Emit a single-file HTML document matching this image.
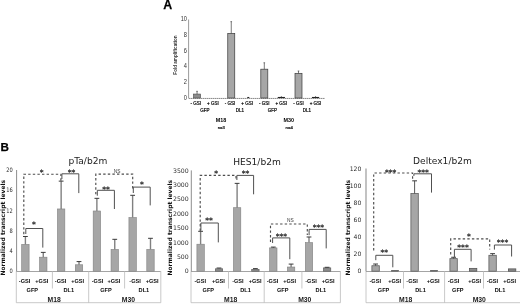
<!DOCTYPE html>
<html><head><meta charset="utf-8"><title>Figure</title>
<style>
html,body{margin:0;padding:0;background:#fff;}
body{width:520px;height:305px;overflow:hidden;}
svg{display:block;filter:blur(0.32px);}
</style></head>
<body>
<svg width="520" height="305" viewBox="0 0 520 305">
<rect x="0" y="0" width="520" height="305" fill="#ffffff"/>
<text x="163.20" y="8.60" font-size="12.4" text-anchor="start" font-weight="bold" font-family='"Liberation Sans", sans-serif' fill="#000" stroke="#000" stroke-width="0.25">A</text>
<line x1="188.60" y1="19.50" x2="188.60" y2="98.00" stroke="#555" stroke-width="0.6"/>
<line x1="188.60" y1="98.45" x2="325.00" y2="98.45" stroke="#6a6a6a" stroke-width="0.8" stroke-dasharray="1.6 0.4"/>
<text transform="translate(187.00,99.50) scale(0.86,1)" font-size="6.6" text-anchor="end" font-family='"Liberation Sans", sans-serif' fill="#333">0</text>
<text transform="translate(187.00,83.84) scale(0.86,1)" font-size="6.6" text-anchor="end" font-family='"Liberation Sans", sans-serif' fill="#333">2</text>
<text transform="translate(187.00,68.18) scale(0.86,1)" font-size="6.6" text-anchor="end" font-family='"Liberation Sans", sans-serif' fill="#333">4</text>
<text transform="translate(187.00,52.52) scale(0.86,1)" font-size="6.6" text-anchor="end" font-family='"Liberation Sans", sans-serif' fill="#333">6</text>
<text transform="translate(187.00,36.86) scale(0.86,1)" font-size="6.6" text-anchor="end" font-family='"Liberation Sans", sans-serif' fill="#333">8</text>
<text transform="translate(187.00,21.20) scale(0.86,1)" font-size="6.6" text-anchor="end" font-family='"Liberation Sans", sans-serif' fill="#333">10</text>
<text transform="translate(177.30,55.00) rotate(-90)" font-size="4.6" text-anchor="middle" font-weight="bold" font-family='"Liberation Sans", sans-serif' fill="#333">Fold amplification</text>
<rect x="193.55" y="94.08" width="7.00" height="3.92" fill="#8c8c8c" stroke="#555" stroke-width="0.7"/>
<line x1="197.05" y1="94.08" x2="197.05" y2="91.34" stroke="#404040" stroke-width="0.7"/>
<line x1="196.25" y1="91.34" x2="197.85" y2="91.34" stroke="#404040" stroke-width="0.7"/>
<rect x="227.75" y="33.40" width="7.00" height="64.60" fill="#a6a6a6" stroke="#3a3a3a" stroke-width="0.7"/>
<line x1="231.25" y1="33.40" x2="231.25" y2="21.66" stroke="#404040" stroke-width="0.7"/>
<line x1="230.45" y1="21.66" x2="232.05" y2="21.66" stroke="#404040" stroke-width="0.7"/>
<line x1="247.30" y1="97.50" x2="249.30" y2="97.50" stroke="#222" stroke-width="1.1"/>
<rect x="260.80" y="69.19" width="7.00" height="28.81" fill="#a6a6a6" stroke="#3a3a3a" stroke-width="0.7"/>
<line x1="264.30" y1="69.19" x2="264.30" y2="62.77" stroke="#404040" stroke-width="0.7"/>
<line x1="263.50" y1="62.77" x2="265.10" y2="62.77" stroke="#404040" stroke-width="0.7"/>
<line x1="277.75" y1="97.50" x2="284.95" y2="97.50" stroke="#222" stroke-width="1.1"/>
<line x1="281.35" y1="97.50" x2="281.35" y2="96.10" stroke="#333" stroke-width="0.7"/>
<rect x="295.00" y="73.34" width="7.00" height="24.66" fill="#a6a6a6" stroke="#3a3a3a" stroke-width="0.7"/>
<line x1="298.50" y1="73.34" x2="298.50" y2="70.99" stroke="#404040" stroke-width="0.7"/>
<line x1="297.70" y1="70.99" x2="299.30" y2="70.99" stroke="#404040" stroke-width="0.7"/>
<line x1="311.95" y1="97.50" x2="319.15" y2="97.50" stroke="#222" stroke-width="1.1"/>
<line x1="315.55" y1="97.50" x2="315.55" y2="96.10" stroke="#333" stroke-width="0.7"/>
<text x="195.80" y="104.90" font-size="4.5" text-anchor="middle" font-weight="normal" font-family='"Liberation Sans", sans-serif' fill="#111" stroke="#111" stroke-width="0.22">- GSI</text>
<text x="212.90" y="104.90" font-size="4.5" text-anchor="middle" font-weight="normal" font-family='"Liberation Sans", sans-serif' fill="#111" stroke="#111" stroke-width="0.22">+ GSI</text>
<text x="230.00" y="104.90" font-size="4.5" text-anchor="middle" font-weight="normal" font-family='"Liberation Sans", sans-serif' fill="#111" stroke="#111" stroke-width="0.22">- GSI</text>
<text x="247.10" y="104.90" font-size="4.5" text-anchor="middle" font-weight="normal" font-family='"Liberation Sans", sans-serif' fill="#111" stroke="#111" stroke-width="0.22">+ GSI</text>
<text x="264.20" y="104.90" font-size="4.5" text-anchor="middle" font-weight="normal" font-family='"Liberation Sans", sans-serif' fill="#111" stroke="#111" stroke-width="0.22">- GSI</text>
<text x="281.30" y="104.90" font-size="4.5" text-anchor="middle" font-weight="normal" font-family='"Liberation Sans", sans-serif' fill="#111" stroke="#111" stroke-width="0.22">+ GSI</text>
<text x="298.40" y="104.90" font-size="4.5" text-anchor="middle" font-weight="normal" font-family='"Liberation Sans", sans-serif' fill="#111" stroke="#111" stroke-width="0.22">- GSI</text>
<text x="315.50" y="104.90" font-size="4.5" text-anchor="middle" font-weight="normal" font-family='"Liberation Sans", sans-serif' fill="#111" stroke="#111" stroke-width="0.22">+ GSI</text>
<text x="204.80" y="111.80" font-size="4.5" text-anchor="middle" font-weight="normal" font-family='"Liberation Sans", sans-serif' fill="#111" stroke="#111" stroke-width="0.22">GFP</text>
<text x="240.00" y="111.80" font-size="4.5" text-anchor="middle" font-weight="normal" font-family='"Liberation Sans", sans-serif' fill="#111" stroke="#111" stroke-width="0.22">DL1</text>
<text x="272.40" y="111.80" font-size="4.5" text-anchor="middle" font-weight="normal" font-family='"Liberation Sans", sans-serif' fill="#111" stroke="#111" stroke-width="0.22">GFP</text>
<text x="307.00" y="111.80" font-size="4.5" text-anchor="middle" font-weight="normal" font-family='"Liberation Sans", sans-serif' fill="#111" stroke="#111" stroke-width="0.22">DL1</text>
<text x="221.00" y="121.90" font-size="5.4" text-anchor="middle" font-weight="bold" font-family='"Liberation Sans", sans-serif' fill="#000" >M18</text>
<text x="288.80" y="121.90" font-size="5.4" text-anchor="middle" font-weight="bold" font-family='"Liberation Sans", sans-serif' fill="#000" >M30</text>
<text x="221.30" y="129.40" font-size="4.3" text-anchor="middle" font-weight="normal" font-family='"Liberation Sans", sans-serif' fill="#111" stroke="#111" stroke-width="0.22">n=3</text>
<text x="289.20" y="129.40" font-size="4.3" text-anchor="middle" font-weight="normal" font-family='"Liberation Sans", sans-serif' fill="#111" stroke="#111" stroke-width="0.22">n=4</text>
<text x="0.50" y="150.50" font-size="11.7" text-anchor="start" font-weight="bold" font-family='"Liberation Sans", sans-serif' fill="#000" stroke="#000" stroke-width="0.25">B</text>
<line x1="16.30" y1="271.20" x2="16.30" y2="302.70" stroke="#bababa" stroke-width="0.8"/>
<line x1="16.60" y1="170.00" x2="16.60" y2="271.20" stroke="#707070" stroke-width="0.8"/>
<line x1="16.30" y1="271.50" x2="160.80" y2="271.50" stroke="#9a9a9a" stroke-width="0.9"/>
<line x1="16.30" y1="302.70" x2="160.80" y2="302.70" stroke="#bababa" stroke-width="0.8"/>
<line x1="160.80" y1="271.20" x2="160.80" y2="302.70" stroke="#bababa" stroke-width="0.8"/>
<line x1="88.70" y1="271.20" x2="88.70" y2="302.70" stroke="#bababa" stroke-width="0.8"/>
<line x1="52.40" y1="271.20" x2="52.40" y2="288.50" stroke="#bababa" stroke-width="0.8"/>
<line x1="124.60" y1="271.20" x2="124.60" y2="288.50" stroke="#bababa" stroke-width="0.8"/>
<text transform="translate(12.70,273.35) scale(0.84,1)" font-size="6.1" text-anchor="end" font-family='"DejaVu Sans", "Liberation Sans", sans-serif' fill="#2e2e2e">0</text>
<text transform="translate(12.70,253.11) scale(0.84,1)" font-size="6.1" text-anchor="end" font-family='"DejaVu Sans", "Liberation Sans", sans-serif' fill="#2e2e2e">4</text>
<text transform="translate(12.70,232.87) scale(0.84,1)" font-size="6.1" text-anchor="end" font-family='"DejaVu Sans", "Liberation Sans", sans-serif' fill="#2e2e2e">8</text>
<text transform="translate(12.70,212.63) scale(0.84,1)" font-size="6.1" text-anchor="end" font-family='"DejaVu Sans", "Liberation Sans", sans-serif' fill="#2e2e2e">12</text>
<text transform="translate(12.70,192.39) scale(0.84,1)" font-size="6.1" text-anchor="end" font-family='"DejaVu Sans", "Liberation Sans", sans-serif' fill="#2e2e2e">16</text>
<text transform="translate(12.70,172.15) scale(0.84,1)" font-size="6.1" text-anchor="end" font-family='"DejaVu Sans", "Liberation Sans", sans-serif' fill="#2e2e2e">20</text>
<text transform="translate(5.00,227.70) rotate(-90)" font-size="6.0" text-anchor="middle" font-weight="bold" font-family='"DejaVu Sans", "Liberation Sans", sans-serif' fill="#111">Normalized transcript levels</text>
<text x="87.90" y="163.90" font-size="9.1" text-anchor="middle" font-weight="normal" font-family='"DejaVu Sans", "Liberation Sans", sans-serif' fill="#222" >pTa/b2m</text>
<rect x="21.70" y="244.38" width="7.40" height="26.82" fill="#a6a6a6" stroke="#808080" stroke-width="0.6"/>
<line x1="25.40" y1="244.38" x2="25.40" y2="236.49" stroke="#808080" stroke-width="1.4"/>
<line x1="23.00" y1="236.49" x2="27.80" y2="236.49" stroke="#3a3a3a" stroke-width="1.0"/>
<rect x="39.57" y="257.18" width="7.40" height="14.02" fill="#a6a6a6" stroke="#808080" stroke-width="0.6"/>
<line x1="43.27" y1="257.18" x2="43.27" y2="252.38" stroke="#808080" stroke-width="1.4"/>
<line x1="40.87" y1="252.38" x2="45.67" y2="252.38" stroke="#3a3a3a" stroke-width="1.0"/>
<rect x="57.44" y="208.96" width="7.40" height="62.24" fill="#a6a6a6" stroke="#808080" stroke-width="0.6"/>
<line x1="61.14" y1="208.96" x2="61.14" y2="181.13" stroke="#808080" stroke-width="1.4"/>
<line x1="58.74" y1="181.13" x2="63.54" y2="181.13" stroke="#3a3a3a" stroke-width="1.0"/>
<rect x="75.31" y="264.77" width="7.40" height="6.43" fill="#a6a6a6" stroke="#808080" stroke-width="0.6"/>
<line x1="79.01" y1="264.77" x2="79.01" y2="261.59" stroke="#808080" stroke-width="1.4"/>
<line x1="76.61" y1="261.59" x2="81.41" y2="261.59" stroke="#3a3a3a" stroke-width="1.0"/>
<rect x="93.18" y="210.99" width="7.40" height="60.21" fill="#a6a6a6" stroke="#808080" stroke-width="0.6"/>
<line x1="96.88" y1="210.99" x2="96.88" y2="198.34" stroke="#808080" stroke-width="1.4"/>
<line x1="94.48" y1="198.34" x2="99.28" y2="198.34" stroke="#3a3a3a" stroke-width="1.0"/>
<rect x="111.05" y="249.44" width="7.40" height="21.76" fill="#a6a6a6" stroke="#808080" stroke-width="0.6"/>
<line x1="114.75" y1="249.44" x2="114.75" y2="239.32" stroke="#808080" stroke-width="1.4"/>
<line x1="112.35" y1="239.32" x2="117.15" y2="239.32" stroke="#3a3a3a" stroke-width="1.0"/>
<rect x="128.92" y="217.56" width="7.40" height="53.64" fill="#a6a6a6" stroke="#808080" stroke-width="0.6"/>
<line x1="132.62" y1="217.56" x2="132.62" y2="195.30" stroke="#808080" stroke-width="1.4"/>
<line x1="130.22" y1="195.30" x2="135.02" y2="195.30" stroke="#3a3a3a" stroke-width="1.0"/>
<rect x="146.79" y="249.44" width="7.40" height="21.76" fill="#a6a6a6" stroke="#808080" stroke-width="0.6"/>
<line x1="150.49" y1="249.44" x2="150.49" y2="238.31" stroke="#808080" stroke-width="1.4"/>
<line x1="148.09" y1="238.31" x2="152.89" y2="238.31" stroke="#3a3a3a" stroke-width="1.0"/>
<text x="24.60" y="282.90" font-size="5.6" text-anchor="middle" font-weight="bold" font-family='"Liberation Sans", sans-serif' fill="#0a0a0a" >-GSI</text>
<text x="41.80" y="282.90" font-size="5.6" text-anchor="middle" font-weight="bold" font-family='"Liberation Sans", sans-serif' fill="#0a0a0a" >+GSI</text>
<text x="60.60" y="282.90" font-size="5.6" text-anchor="middle" font-weight="bold" font-family='"Liberation Sans", sans-serif' fill="#0a0a0a" >-GSI</text>
<text x="77.70" y="282.90" font-size="5.6" text-anchor="middle" font-weight="bold" font-family='"Liberation Sans", sans-serif' fill="#0a0a0a" >+GSI</text>
<text x="97.50" y="282.90" font-size="5.6" text-anchor="middle" font-weight="bold" font-family='"Liberation Sans", sans-serif' fill="#0a0a0a" >-GSI</text>
<text x="113.90" y="282.90" font-size="5.6" text-anchor="middle" font-weight="bold" font-family='"Liberation Sans", sans-serif' fill="#0a0a0a" >+GSI</text>
<text x="135.10" y="282.90" font-size="5.6" text-anchor="middle" font-weight="bold" font-family='"Liberation Sans", sans-serif' fill="#0a0a0a" >-GSI</text>
<text x="152.10" y="282.90" font-size="5.6" text-anchor="middle" font-weight="bold" font-family='"Liberation Sans", sans-serif' fill="#0a0a0a" >+GSI</text>
<text x="32.30" y="292.00" font-size="5.6" text-anchor="middle" font-weight="bold" font-family='"Liberation Sans", sans-serif' fill="#0a0a0a" >GFP</text>
<text x="68.80" y="292.00" font-size="5.6" text-anchor="middle" font-weight="bold" font-family='"Liberation Sans", sans-serif' fill="#0a0a0a" >DL1</text>
<text x="106.00" y="292.00" font-size="5.6" text-anchor="middle" font-weight="bold" font-family='"Liberation Sans", sans-serif' fill="#0a0a0a" >GFP</text>
<text x="143.90" y="292.00" font-size="5.6" text-anchor="middle" font-weight="bold" font-family='"Liberation Sans", sans-serif' fill="#0a0a0a" >DL1</text>
<text x="54.10" y="301.80" font-size="6.8" text-anchor="middle" font-weight="bold" font-family='"Liberation Sans", sans-serif' fill="#1a1a1a" >M18</text>
<text x="128.40" y="301.80" font-size="6.8" text-anchor="middle" font-weight="bold" font-family='"Liberation Sans", sans-serif' fill="#1a1a1a" >M30</text>
<polyline points="23.80,234.20 23.80,174.20 60.90,174.20 60.90,181.00" fill="none" stroke="#4c4c4c" stroke-width="1.15" stroke-dasharray="2.4 2.2"/>
<text x="41.60" y="174.99" font-size="7.6" text-anchor="middle" font-weight="normal" font-family='"DejaVu Sans", "Liberation Sans", sans-serif' fill="#111" stroke="#222" stroke-width="0.15">*</text>
<polyline points="61.90,179.00 61.90,173.80 78.80,173.80 78.80,193.10" fill="none" stroke="#505050" stroke-width="1.0"/>
<text x="71.60" y="174.69" font-size="7.6" text-anchor="middle" font-weight="normal" font-family='"DejaVu Sans", "Liberation Sans", sans-serif' fill="#111" stroke="#222" stroke-width="0.15">**</text>
<polyline points="25.80,234.00 25.80,228.50 42.80,228.50 42.80,247.60" fill="none" stroke="#505050" stroke-width="1.0"/>
<text x="34.00" y="226.59" font-size="7.6" text-anchor="middle" font-weight="normal" font-family='"DejaVu Sans", "Liberation Sans", sans-serif' fill="#111" stroke="#222" stroke-width="0.15">*</text>
<polyline points="95.80,194.30 95.80,174.10 132.70,174.10 132.70,190.00" fill="none" stroke="#4c4c4c" stroke-width="1.15" stroke-dasharray="2.4 2.2"/>
<text x="117.10" y="172.90" font-size="4.8" text-anchor="middle" font-weight="normal" font-family='"Liberation Sans", sans-serif' fill="#3a3a3a" >NS</text>
<polyline points="97.30,195.70 97.30,190.30 114.40,190.30 114.40,209.00" fill="none" stroke="#505050" stroke-width="1.0"/>
<text x="106.00" y="191.59" font-size="7.6" text-anchor="middle" font-weight="normal" font-family='"DejaVu Sans", "Liberation Sans", sans-serif' fill="#111" stroke="#222" stroke-width="0.15">**</text>
<polyline points="133.30,193.00 133.30,187.10 150.20,187.10 150.20,205.40" fill="none" stroke="#505050" stroke-width="1.0"/>
<text x="142.00" y="187.29" font-size="7.6" text-anchor="middle" font-weight="normal" font-family='"DejaVu Sans", "Liberation Sans", sans-serif' fill="#111" stroke="#222" stroke-width="0.15">*</text>
<line x1="191.00" y1="271.20" x2="191.00" y2="302.70" stroke="#bababa" stroke-width="0.8"/>
<line x1="191.30" y1="170.40" x2="191.30" y2="271.20" stroke="#707070" stroke-width="0.8"/>
<line x1="191.00" y1="271.50" x2="340.40" y2="271.50" stroke="#9a9a9a" stroke-width="0.9"/>
<line x1="191.00" y1="302.70" x2="340.40" y2="302.70" stroke="#bababa" stroke-width="0.8"/>
<line x1="340.40" y1="271.20" x2="340.40" y2="302.70" stroke="#bababa" stroke-width="0.8"/>
<line x1="264.20" y1="271.20" x2="264.20" y2="302.70" stroke="#bababa" stroke-width="0.8"/>
<line x1="228.50" y1="271.20" x2="228.50" y2="288.50" stroke="#bababa" stroke-width="0.8"/>
<line x1="301.90" y1="271.20" x2="301.90" y2="288.50" stroke="#bababa" stroke-width="0.8"/>
<text transform="translate(188.70,273.35) scale(1.0,1)" font-size="6.2" text-anchor="end" font-family='"DejaVu Sans", "Liberation Sans", sans-serif' fill="#2e2e2e">0</text>
<text transform="translate(188.70,258.95) scale(1.0,1)" font-size="6.2" text-anchor="end" font-family='"DejaVu Sans", "Liberation Sans", sans-serif' fill="#2e2e2e">500</text>
<text transform="translate(188.70,244.55) scale(1.0,1)" font-size="6.2" text-anchor="end" font-family='"DejaVu Sans", "Liberation Sans", sans-serif' fill="#2e2e2e">1000</text>
<text transform="translate(188.70,230.15) scale(1.0,1)" font-size="6.2" text-anchor="end" font-family='"DejaVu Sans", "Liberation Sans", sans-serif' fill="#2e2e2e">1500</text>
<text transform="translate(188.70,215.75) scale(1.0,1)" font-size="6.2" text-anchor="end" font-family='"DejaVu Sans", "Liberation Sans", sans-serif' fill="#2e2e2e">2000</text>
<text transform="translate(188.70,201.35) scale(1.0,1)" font-size="6.2" text-anchor="end" font-family='"DejaVu Sans", "Liberation Sans", sans-serif' fill="#2e2e2e">2500</text>
<text transform="translate(188.70,186.95) scale(1.0,1)" font-size="6.2" text-anchor="end" font-family='"DejaVu Sans", "Liberation Sans", sans-serif' fill="#2e2e2e">3000</text>
<text transform="translate(188.70,172.55) scale(1.0,1)" font-size="6.2" text-anchor="end" font-family='"DejaVu Sans", "Liberation Sans", sans-serif' fill="#2e2e2e">3500</text>
<text transform="translate(171.80,227.70) rotate(-90)" font-size="6.0" text-anchor="middle" font-weight="bold" font-family='"DejaVu Sans", "Liberation Sans", sans-serif' fill="#111">Normalized transcript levels</text>
<text x="257.00" y="164.90" font-size="9.1" text-anchor="middle" font-weight="normal" font-family='"DejaVu Sans", "Liberation Sans", sans-serif' fill="#222" >HES1/b2m</text>
<rect x="196.90" y="244.21" width="7.40" height="26.99" fill="#a6a6a6" stroke="#808080" stroke-width="0.6"/>
<line x1="200.60" y1="244.21" x2="200.60" y2="231.31" stroke="#808080" stroke-width="1.4"/>
<line x1="198.20" y1="231.31" x2="203.00" y2="231.31" stroke="#3a3a3a" stroke-width="1.0"/>
<rect x="215.30" y="268.81" width="7.40" height="2.39" fill="#8c8c8c" stroke="#555" stroke-width="0.6"/>
<line x1="219.00" y1="268.81" x2="219.00" y2="268.03" stroke="#808080" stroke-width="1.4"/>
<line x1="216.60" y1="268.03" x2="221.40" y2="268.03" stroke="#3a3a3a" stroke-width="1.0"/>
<rect x="233.40" y="207.70" width="7.40" height="63.50" fill="#a6a6a6" stroke="#808080" stroke-width="0.6"/>
<line x1="237.10" y1="207.70" x2="237.10" y2="183.36" stroke="#808080" stroke-width="1.4"/>
<line x1="234.70" y1="183.36" x2="239.50" y2="183.36" stroke="#3a3a3a" stroke-width="1.0"/>
<rect x="251.70" y="269.30" width="7.40" height="1.90" fill="#8c8c8c" stroke="#555" stroke-width="0.6"/>
<line x1="255.40" y1="269.30" x2="255.40" y2="268.61" stroke="#808080" stroke-width="1.4"/>
<line x1="253.00" y1="268.61" x2="257.80" y2="268.61" stroke="#3a3a3a" stroke-width="1.0"/>
<rect x="269.60" y="247.90" width="7.40" height="23.30" fill="#a6a6a6" stroke="#808080" stroke-width="0.6"/>
<line x1="273.30" y1="247.90" x2="273.30" y2="247.09" stroke="#808080" stroke-width="1.4"/>
<line x1="270.90" y1="247.09" x2="275.70" y2="247.09" stroke="#3a3a3a" stroke-width="1.0"/>
<rect x="287.40" y="267.00" width="7.40" height="4.20" fill="#a6a6a6" stroke="#808080" stroke-width="0.6"/>
<line x1="291.10" y1="267.00" x2="291.10" y2="264.09" stroke="#808080" stroke-width="1.4"/>
<line x1="288.70" y1="264.09" x2="293.50" y2="264.09" stroke="#3a3a3a" stroke-width="1.0"/>
<rect x="305.30" y="242.60" width="7.40" height="28.60" fill="#a6a6a6" stroke="#808080" stroke-width="0.6"/>
<line x1="309.00" y1="242.60" x2="309.00" y2="236.99" stroke="#808080" stroke-width="1.4"/>
<line x1="306.60" y1="236.99" x2="311.40" y2="236.99" stroke="#3a3a3a" stroke-width="1.0"/>
<rect x="323.40" y="267.89" width="7.40" height="3.31" fill="#8c8c8c" stroke="#555" stroke-width="0.6"/>
<line x1="327.10" y1="267.89" x2="327.10" y2="267.31" stroke="#808080" stroke-width="1.4"/>
<line x1="324.70" y1="267.31" x2="329.50" y2="267.31" stroke="#3a3a3a" stroke-width="1.0"/>
<text x="200.20" y="282.90" font-size="5.6" text-anchor="middle" font-weight="bold" font-family='"Liberation Sans", sans-serif' fill="#0a0a0a" >-GSI</text>
<text x="218.40" y="282.90" font-size="5.6" text-anchor="middle" font-weight="bold" font-family='"Liberation Sans", sans-serif' fill="#0a0a0a" >+GSI</text>
<text x="237.90" y="282.90" font-size="5.6" text-anchor="middle" font-weight="bold" font-family='"Liberation Sans", sans-serif' fill="#0a0a0a" >-GSI</text>
<text x="255.10" y="282.90" font-size="5.6" text-anchor="middle" font-weight="bold" font-family='"Liberation Sans", sans-serif' fill="#0a0a0a" >+GSI</text>
<text x="272.50" y="282.90" font-size="5.6" text-anchor="middle" font-weight="bold" font-family='"Liberation Sans", sans-serif' fill="#0a0a0a" >-GSI</text>
<text x="289.60" y="282.90" font-size="5.6" text-anchor="middle" font-weight="bold" font-family='"Liberation Sans", sans-serif' fill="#0a0a0a" >+GSI</text>
<text x="311.00" y="282.90" font-size="5.6" text-anchor="middle" font-weight="bold" font-family='"Liberation Sans", sans-serif' fill="#0a0a0a" >-GSI</text>
<text x="328.10" y="282.90" font-size="5.6" text-anchor="middle" font-weight="bold" font-family='"Liberation Sans", sans-serif' fill="#0a0a0a" >+GSI</text>
<text x="208.30" y="292.00" font-size="5.6" text-anchor="middle" font-weight="bold" font-family='"Liberation Sans", sans-serif' fill="#0a0a0a" >GFP</text>
<text x="245.60" y="292.00" font-size="5.6" text-anchor="middle" font-weight="bold" font-family='"Liberation Sans", sans-serif' fill="#0a0a0a" >DL1</text>
<text x="282.70" y="292.00" font-size="5.6" text-anchor="middle" font-weight="bold" font-family='"Liberation Sans", sans-serif' fill="#0a0a0a" >GFP</text>
<text x="320.90" y="292.00" font-size="5.6" text-anchor="middle" font-weight="bold" font-family='"Liberation Sans", sans-serif' fill="#0a0a0a" >DL1</text>
<text x="230.70" y="301.80" font-size="6.8" text-anchor="middle" font-weight="bold" font-family='"Liberation Sans", sans-serif' fill="#1a1a1a" >M18</text>
<text x="304.80" y="301.80" font-size="6.8" text-anchor="middle" font-weight="bold" font-family='"Liberation Sans", sans-serif' fill="#1a1a1a" >M30</text>
<polyline points="200.20,231.00 200.20,175.40 236.00,175.40 236.00,180.40" fill="none" stroke="#4c4c4c" stroke-width="1.15" stroke-dasharray="2.4 2.2"/>
<text x="216.20" y="176.19" font-size="7.6" text-anchor="middle" font-weight="normal" font-family='"DejaVu Sans", "Liberation Sans", sans-serif' fill="#111" stroke="#222" stroke-width="0.15">*</text>
<polyline points="236.90,180.00 236.90,175.40 253.60,175.40 253.60,194.30" fill="none" stroke="#505050" stroke-width="1.0"/>
<text x="245.50" y="176.19" font-size="7.6" text-anchor="middle" font-weight="normal" font-family='"DejaVu Sans", "Liberation Sans", sans-serif' fill="#111" stroke="#222" stroke-width="0.15">**</text>
<polyline points="200.90,230.60 200.90,223.00 218.30,223.00 218.30,242.40" fill="none" stroke="#505050" stroke-width="1.0"/>
<text x="209.00" y="223.19" font-size="7.6" text-anchor="middle" font-weight="normal" font-family='"DejaVu Sans", "Liberation Sans", sans-serif' fill="#111" stroke="#222" stroke-width="0.15">**</text>
<polyline points="270.50,242.00 270.50,224.00 307.30,224.00 307.30,234.90" fill="none" stroke="#4c4c4c" stroke-width="1.15" stroke-dasharray="2.4 2.2"/>
<text x="290.30" y="221.60" font-size="4.8" text-anchor="middle" font-weight="normal" font-family='"Liberation Sans", sans-serif' fill="#3a3a3a" >NS</text>
<polyline points="272.60,243.00 272.60,237.90 289.80,237.90 289.80,259.20" fill="none" stroke="#505050" stroke-width="1.0"/>
<text x="281.40" y="239.09" font-size="7.6" text-anchor="middle" font-weight="normal" font-family='"DejaVu Sans", "Liberation Sans", sans-serif' fill="#111" stroke="#222" stroke-width="0.15">***</text>
<polyline points="309.10,235.20 309.10,229.40 326.20,229.40 326.20,248.40" fill="none" stroke="#505050" stroke-width="1.0"/>
<text x="318.40" y="230.39" font-size="7.6" text-anchor="middle" font-weight="normal" font-family='"DejaVu Sans", "Liberation Sans", sans-serif' fill="#111" stroke="#222" stroke-width="0.15">***</text>
<line x1="366.00" y1="271.20" x2="366.00" y2="302.70" stroke="#bababa" stroke-width="0.8"/>
<line x1="366.00" y1="168.60" x2="366.00" y2="271.20" stroke="#9a9a9a" stroke-width="1.2"/>
<line x1="366.00" y1="271.50" x2="520.50" y2="271.50" stroke="#9a9a9a" stroke-width="0.9"/>
<line x1="366.00" y1="302.70" x2="520.50" y2="302.70" stroke="#bababa" stroke-width="0.8"/>
<line x1="520.50" y1="271.20" x2="520.50" y2="302.70" stroke="#bababa" stroke-width="0.8"/>
<line x1="444.60" y1="271.20" x2="444.60" y2="302.70" stroke="#bababa" stroke-width="0.8"/>
<line x1="403.50" y1="271.20" x2="403.50" y2="288.50" stroke="#bababa" stroke-width="0.8"/>
<line x1="483.50" y1="271.20" x2="483.50" y2="288.50" stroke="#bababa" stroke-width="0.8"/>
<text transform="translate(361.30,273.35) scale(1.0,1)" font-size="6.1" text-anchor="end" font-family='"DejaVu Sans", "Liberation Sans", sans-serif' fill="#2e2e2e">0</text>
<text transform="translate(361.30,256.25) scale(1.0,1)" font-size="6.1" text-anchor="end" font-family='"DejaVu Sans", "Liberation Sans", sans-serif' fill="#2e2e2e">20</text>
<text transform="translate(361.30,239.15) scale(1.0,1)" font-size="6.1" text-anchor="end" font-family='"DejaVu Sans", "Liberation Sans", sans-serif' fill="#2e2e2e">40</text>
<text transform="translate(361.30,222.05) scale(1.0,1)" font-size="6.1" text-anchor="end" font-family='"DejaVu Sans", "Liberation Sans", sans-serif' fill="#2e2e2e">60</text>
<text transform="translate(361.30,204.95) scale(1.0,1)" font-size="6.1" text-anchor="end" font-family='"DejaVu Sans", "Liberation Sans", sans-serif' fill="#2e2e2e">80</text>
<text transform="translate(361.30,187.85) scale(1.0,1)" font-size="6.1" text-anchor="end" font-family='"DejaVu Sans", "Liberation Sans", sans-serif' fill="#2e2e2e">100</text>
<text transform="translate(361.30,170.75) scale(1.0,1)" font-size="6.1" text-anchor="end" font-family='"DejaVu Sans", "Liberation Sans", sans-serif' fill="#2e2e2e">120</text>
<text transform="translate(350.10,227.70) rotate(-90)" font-size="6.0" text-anchor="middle" font-weight="bold" font-family='"DejaVu Sans", "Liberation Sans", sans-serif' fill="#111">Normalized transcript levels</text>
<text x="442.50" y="163.90" font-size="9.1" text-anchor="middle" font-weight="normal" font-family='"DejaVu Sans", "Liberation Sans", sans-serif' fill="#222" >Deltex1/b2m</text>
<rect x="371.90" y="265.73" width="7.40" height="5.47" fill="#a6a6a6" stroke="#606060" stroke-width="0.8"/>
<line x1="375.60" y1="265.73" x2="375.60" y2="264.02" stroke="#444" stroke-width="0.9"/>
<line x1="373.20" y1="264.02" x2="378.00" y2="264.02" stroke="#3a3a3a" stroke-width="1.0"/>
<rect x="391.40" y="270.30" width="7.40" height="0.90" fill="#4a4a4a" stroke="#444" stroke-width="0.3"/>
<rect x="410.90" y="193.48" width="7.40" height="77.72" fill="#a6a6a6" stroke="#606060" stroke-width="0.8"/>
<line x1="414.60" y1="193.48" x2="414.60" y2="180.83" stroke="#444" stroke-width="0.9"/>
<line x1="412.20" y1="180.83" x2="417.00" y2="180.83" stroke="#3a3a3a" stroke-width="1.0"/>
<rect x="430.40" y="270.30" width="7.40" height="0.90" fill="#4a4a4a" stroke="#444" stroke-width="0.3"/>
<rect x="449.90" y="258.63" width="7.40" height="12.57" fill="#a6a6a6" stroke="#606060" stroke-width="0.8"/>
<line x1="453.60" y1="258.63" x2="453.60" y2="257.26" stroke="#444" stroke-width="0.9"/>
<line x1="451.20" y1="257.26" x2="456.00" y2="257.26" stroke="#3a3a3a" stroke-width="1.0"/>
<rect x="469.40" y="268.38" width="7.40" height="2.82" fill="#8c8c8c" stroke="#555" stroke-width="0.8"/>
<rect x="488.90" y="255.30" width="7.40" height="15.90" fill="#a6a6a6" stroke="#606060" stroke-width="0.8"/>
<line x1="492.60" y1="255.30" x2="492.60" y2="253.67" stroke="#444" stroke-width="0.9"/>
<line x1="490.20" y1="253.67" x2="495.00" y2="253.67" stroke="#3a3a3a" stroke-width="1.0"/>
<rect x="508.40" y="268.89" width="7.40" height="2.31" fill="#8c8c8c" stroke="#555" stroke-width="0.8"/>
<text x="375.20" y="282.90" font-size="5.6" text-anchor="middle" font-weight="bold" font-family='"Liberation Sans", sans-serif' fill="#0a0a0a" >-GSI</text>
<text x="394.60" y="282.90" font-size="5.6" text-anchor="middle" font-weight="bold" font-family='"Liberation Sans", sans-serif' fill="#0a0a0a" >+GSI</text>
<text x="412.10" y="282.90" font-size="5.6" text-anchor="middle" font-weight="bold" font-family='"Liberation Sans", sans-serif' fill="#0a0a0a" >-GSI</text>
<text x="433.10" y="282.90" font-size="5.6" text-anchor="middle" font-weight="bold" font-family='"Liberation Sans", sans-serif' fill="#0a0a0a" >+GSI</text>
<text x="453.50" y="282.90" font-size="5.6" text-anchor="middle" font-weight="bold" font-family='"Liberation Sans", sans-serif' fill="#0a0a0a" >-GSI</text>
<text x="474.60" y="282.90" font-size="5.6" text-anchor="middle" font-weight="bold" font-family='"Liberation Sans", sans-serif' fill="#0a0a0a" >+GSI</text>
<text x="492.40" y="282.90" font-size="5.6" text-anchor="middle" font-weight="bold" font-family='"Liberation Sans", sans-serif' fill="#0a0a0a" >-GSI</text>
<text x="509.60" y="282.90" font-size="5.6" text-anchor="middle" font-weight="bold" font-family='"Liberation Sans", sans-serif' fill="#0a0a0a" >+GSI</text>
<text x="383.60" y="292.00" font-size="5.6" text-anchor="middle" font-weight="bold" font-family='"Liberation Sans", sans-serif' fill="#0a0a0a" >GFP</text>
<text x="420.50" y="292.00" font-size="5.6" text-anchor="middle" font-weight="bold" font-family='"Liberation Sans", sans-serif' fill="#0a0a0a" >DL1</text>
<text x="457.80" y="292.00" font-size="5.6" text-anchor="middle" font-weight="bold" font-family='"Liberation Sans", sans-serif' fill="#0a0a0a" >GFP</text>
<text x="500.10" y="292.00" font-size="5.6" text-anchor="middle" font-weight="bold" font-family='"Liberation Sans", sans-serif' fill="#0a0a0a" >DL1</text>
<text x="405.70" y="301.80" font-size="6.8" text-anchor="middle" font-weight="bold" font-family='"Liberation Sans", sans-serif' fill="#1a1a1a" >M18</text>
<text x="479.30" y="301.80" font-size="6.8" text-anchor="middle" font-weight="bold" font-family='"Liberation Sans", sans-serif' fill="#1a1a1a" >M30</text>
<polyline points="373.70,250.40 373.70,173.00 412.60,173.00 412.60,180.00" fill="none" stroke="#4c4c4c" stroke-width="1.15" stroke-dasharray="2.4 2.2"/>
<text x="390.70" y="174.69" font-size="7.6" text-anchor="middle" font-weight="normal" font-family='"DejaVu Sans", "Liberation Sans", sans-serif' fill="#111" stroke="#222" stroke-width="0.15">***</text>
<polyline points="413.90,176.00 413.90,173.80 431.50,173.80 431.50,192.60" fill="none" stroke="#505050" stroke-width="1.0"/>
<text x="423.20" y="175.09" font-size="7.6" text-anchor="middle" font-weight="normal" font-family='"DejaVu Sans", "Liberation Sans", sans-serif' fill="#111" stroke="#222" stroke-width="0.15">***</text>
<polyline points="375.80,260.20 375.80,255.30 392.80,255.30 392.80,267.30" fill="none" stroke="#505050" stroke-width="1.0"/>
<text x="384.30" y="255.39" font-size="7.6" text-anchor="middle" font-weight="normal" font-family='"DejaVu Sans", "Liberation Sans", sans-serif' fill="#111" stroke="#222" stroke-width="0.15">**</text>
<polyline points="450.70,254.50 450.70,238.90 489.70,238.90 489.70,249.60" fill="none" stroke="#4c4c4c" stroke-width="1.15" stroke-dasharray="2.4 2.2"/>
<text x="468.90" y="238.79" font-size="7.6" text-anchor="middle" font-weight="normal" font-family='"DejaVu Sans", "Liberation Sans", sans-serif' fill="#111" stroke="#222" stroke-width="0.15">*</text>
<polyline points="454.40,257.00 454.40,249.30 471.10,249.30 471.10,261.40" fill="none" stroke="#505050" stroke-width="1.0"/>
<text x="463.00" y="249.99" font-size="7.6" text-anchor="middle" font-weight="normal" font-family='"DejaVu Sans", "Liberation Sans", sans-serif' fill="#111" stroke="#222" stroke-width="0.15">***</text>
<polyline points="494.40,249.60 494.40,245.00 511.60,245.00 511.60,256.50" fill="none" stroke="#505050" stroke-width="1.0"/>
<text x="502.50" y="245.39" font-size="7.6" text-anchor="middle" font-weight="normal" font-family='"DejaVu Sans", "Liberation Sans", sans-serif' fill="#111" stroke="#222" stroke-width="0.15">***</text>
</svg>
</body></html>
